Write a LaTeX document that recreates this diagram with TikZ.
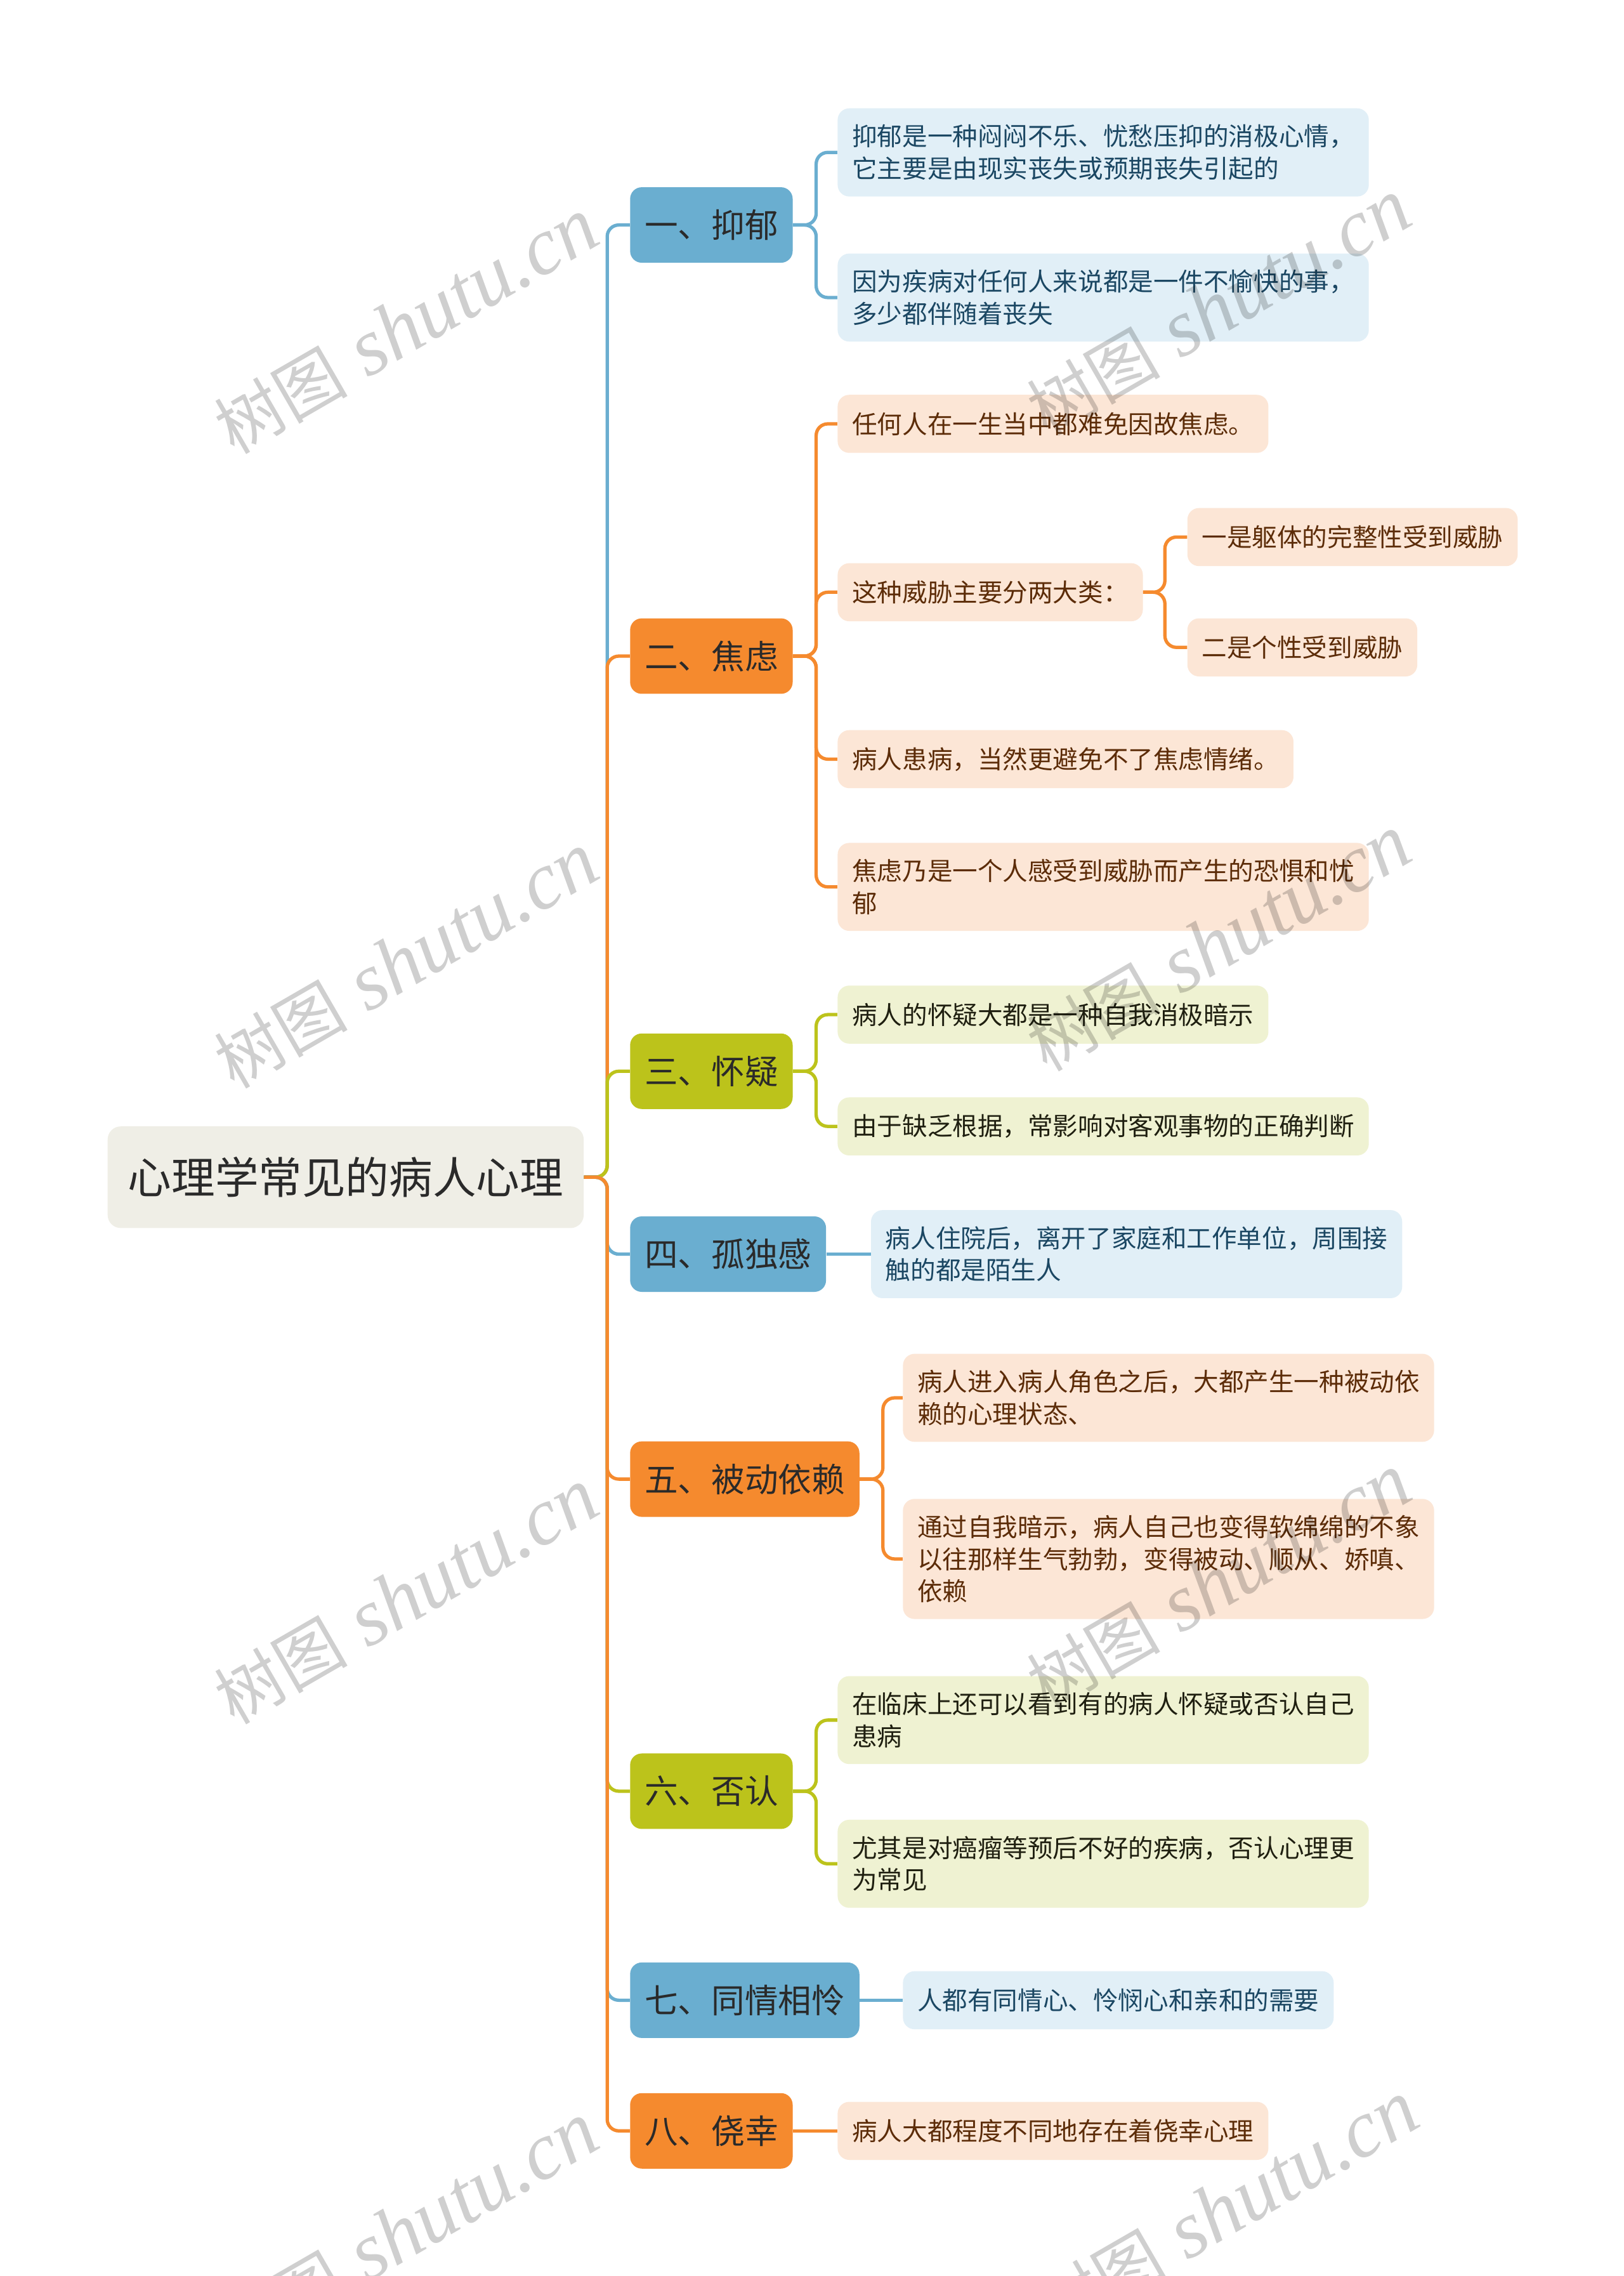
\documentclass[tikz,border=0pt]{standalone}
\usepackage{fontspec}
\setmainfont{Noto Sans CJK SC}
\newfontfamily\wmfont{Liberation Serif}

\definecolor{bluebr}{HTML}{6AAED0}
\definecolor{orangebr}{HTML}{F58A2E}
\definecolor{olivebr}{HTML}{BCC31B}
\definecolor{blueleaf}{HTML}{E1EFF7}
\definecolor{orangeleaf}{HTML}{FCE6D6}
\definecolor{oliveleaf}{HTML}{EFF2D2}
\definecolor{rootfill}{HTML}{EFEEE6}
\definecolor{bluetext}{HTML}{1B4763}
\definecolor{orangetext}{HTML}{5C2C08}
\definecolor{olivetext}{HTML}{1F1F10}
\definecolor{darktext}{HTML}{2A2A2A}

\tikzset{
  rootbox/.style={rounded corners=9pt, fill=rootfill, text=darktext,
    font=\fontsize{30}{36}\selectfont, inner xsep=14pt, minimum height=70pt, anchor=west},
  branchbox/.style={rounded corners=8pt, fill=#1, text=darktext,
    font=\fontsize{23}{28}\selectfont, inner xsep=10pt, minimum height=52pt, anchor=west},
  leafbox/.style 2 args={rounded corners=8pt, fill=#1, text=#2,
    font=\fontsize{17.3}{22}\selectfont, inner xsep=10pt, inner ysep=11.3pt,
    minimum height=40pt, align=left, anchor=west},
  conn/.style={draw=#1, line width=2.3pt, rounded corners=8pt},
  watermark/.style={rotate=30, text=black, text opacity=0.19,
    font=\wmfont\itshape\fontsize{56}{60}\selectfont}
}

\begin{document}
\begin{tikzpicture}[x=1pt,y=-1pt]
\fill[white] (0,0) rectangle (1119,1568);
\useasboundingbox (0,0) rectangle (1119,1568);
% 中心主题
\node[rootbox] (root) at (74,811) {心理学常见的病人心理};
% 分支
\node[branchbox=bluebr] (b1) at (434,155) {一、抑郁};
\node[branchbox=orangebr] (b2) at (434,452) {二、焦虑};
\node[branchbox=olivebr] (b3) at (434,738) {三、怀疑};
\node[branchbox=bluebr] (b4) at (434,864) {四、孤独感};
\node[branchbox=orangebr] (b5) at (434,1019) {五、被动依赖};
\node[branchbox=olivebr] (b6) at (434,1234) {六、否认};
\node[branchbox=bluebr] (b7) at (434,1378) {七、同情相怜};
\node[branchbox=orangebr] (b8) at (434,1468) {八、侥幸};
% 一、抑郁
\node[leafbox={blueleaf}{bluetext}] (l11) at (577,105) {抑郁是一种闷闷不乐、忧愁压抑的消极心情，\\它主要是由现实丧失或预期丧失引起的};
\node[leafbox={blueleaf}{bluetext}] (l12) at (577,205) {因为疾病对任何人来说都是一件不愉快的事，\\多少都伴随着丧失};
% 二、焦虑
\node[leafbox={orangeleaf}{orangetext}] (l21) at (577,292) {任何人在一生当中都难免因故焦虑。};
\node[leafbox={orangeleaf}{orangetext}] (l22) at (577,408) {这种威胁主要分两大类：};
\node[leafbox={orangeleaf}{orangetext}] (l221) at (818,370) {一是躯体的完整性受到威胁};
\node[leafbox={orangeleaf}{orangetext}] (l222) at (818,446) {二是个性受到威胁};
\node[leafbox={orangeleaf}{orangetext}] (l23) at (577,523) {病人患病，当然更避免不了焦虑情绪。};
\node[leafbox={orangeleaf}{orangetext}] (l24) at (577,611) {焦虑乃是一个人感受到威胁而产生的恐惧和忧\\郁};
% 三、怀疑
\node[leafbox={oliveleaf}{olivetext}] (l31) at (577,699) {病人的怀疑大都是一种自我消极暗示};
\node[leafbox={oliveleaf}{olivetext}] (l32) at (577,776) {由于缺乏根据，常影响对客观事物的正确判断};
% 四、孤独感
\node[leafbox={blueleaf}{bluetext}] (l41) at (600,864) {病人住院后，离开了家庭和工作单位，周围接\\触的都是陌生人};
% 五、被动依赖
\node[leafbox={orangeleaf}{orangetext}] (l51) at (622,963) {病人进入病人角色之后，大都产生一种被动依\\赖的心理状态、};
\node[leafbox={orangeleaf}{orangetext}] (l52) at (622,1074) {通过自我暗示，病人自己也变得软绵绵的不象\\以往那样生气勃勃，变得被动、顺从、娇嗔、\\依赖};
% 六、否认
\node[leafbox={oliveleaf}{olivetext}] (l61) at (577,1185) {在临床上还可以看到有的病人怀疑或否认自己\\患病};
\node[leafbox={oliveleaf}{olivetext}] (l62) at (577,1284) {尤其是对癌瘤等预后不好的疾病，否认心理更\\为常见};
% 七、八
\node[leafbox={blueleaf}{bluetext}] (l71) at (622,1378) {人都有同情心、怜悯心和亲和的需要};
\node[leafbox={orangeleaf}{orangetext}] (l81) at (577,1468) {病人大都程度不同地存在着侥幸心理};
% 主干连线
\draw[conn=bluebr] (root.east) -- ++(16,0) |- (b1.west);
\draw[conn=orangebr] (root.east) -- ++(16,0) |- (b2.west);
\draw[conn=olivebr] (root.east) -- ++(16,0) |- (b3.west);
\draw[conn=bluebr] (root.east) -- ++(16,0) |- (b4.west);
\draw[conn=orangebr] (root.east) -- ++(16,0) |- (b5.west);
\draw[conn=olivebr] (root.east) -- ++(16,0) |- (b6.west);
\draw[conn=bluebr] (root.east) -- ++(16,0) |- (b7.west);
\draw[conn=orangebr] (root.east) -- ++(16,0) |- (b8.west);
% 分支连线
\draw[conn=bluebr] (b1.east) -- ++(16,0) |- (l11.west);
\draw[conn=bluebr] (b1.east) -- ++(16,0) |- (l12.west);
\draw[conn=orangebr] (b2.east) -- ++(16,0) |- (l21.west);
\draw[conn=orangebr] (b2.east) -- ++(16,0) |- (l22.west);
\draw[conn=orangebr] (b2.east) -- ++(16,0) |- (l23.west);
\draw[conn=orangebr] (b2.east) -- ++(16,0) |- (l24.west);
\draw[conn=orangebr] (l22.east) -- ++(15,0) |- (l221.west);
\draw[conn=orangebr] (l22.east) -- ++(15,0) |- (l222.west);
\draw[conn=olivebr] (b3.east) -- ++(16,0) |- (l31.west);
\draw[conn=olivebr] (b3.east) -- ++(16,0) |- (l32.west);
\draw[conn=bluebr] (b4.east) -- (l41.west);
\draw[conn=orangebr] (b5.east) -- ++(16,0) |- (l51.west);
\draw[conn=orangebr] (b5.east) -- ++(16,0) |- (l52.west);
\draw[conn=olivebr] (b6.east) -- ++(16,0) |- (l61.west);
\draw[conn=olivebr] (b6.east) -- ++(16,0) |- (l62.west);
\draw[conn=bluebr] (b7.east) -- (l71.west);
\draw[conn=orangebr] (b8.east) -- (l81.west);
% 水印
\node[watermark] (wm1) at (280,225) {{\rmfamily\fontsize{46}{50}\selectfont 树图} shutu.cn};
\node[watermark] (wm2) at (280,662) {{\rmfamily\fontsize{46}{50}\selectfont 树图} shutu.cn};
\node[watermark] (wm3) at (280,1100) {{\rmfamily\fontsize{46}{50}\selectfont 树图} shutu.cn};
\node[watermark] (wm4) at (280,1537) {{\rmfamily\fontsize{46}{50}\selectfont 树图} shutu.cn};
\node[watermark] (wm5) at (840,212) {{\rmfamily\fontsize{46}{50}\selectfont 树图} shutu.cn};
\node[watermark] (wm6) at (840,650) {{\rmfamily\fontsize{46}{50}\selectfont 树图} shutu.cn};
\node[watermark] (wm7) at (840,1090) {{\rmfamily\fontsize{46}{50}\selectfont 树图} shutu.cn};
\node[watermark] (wm8) at (845,1522) {{\rmfamily\fontsize{46}{50}\selectfont 树图} shutu.cn};
\end{tikzpicture}
\end{document}
